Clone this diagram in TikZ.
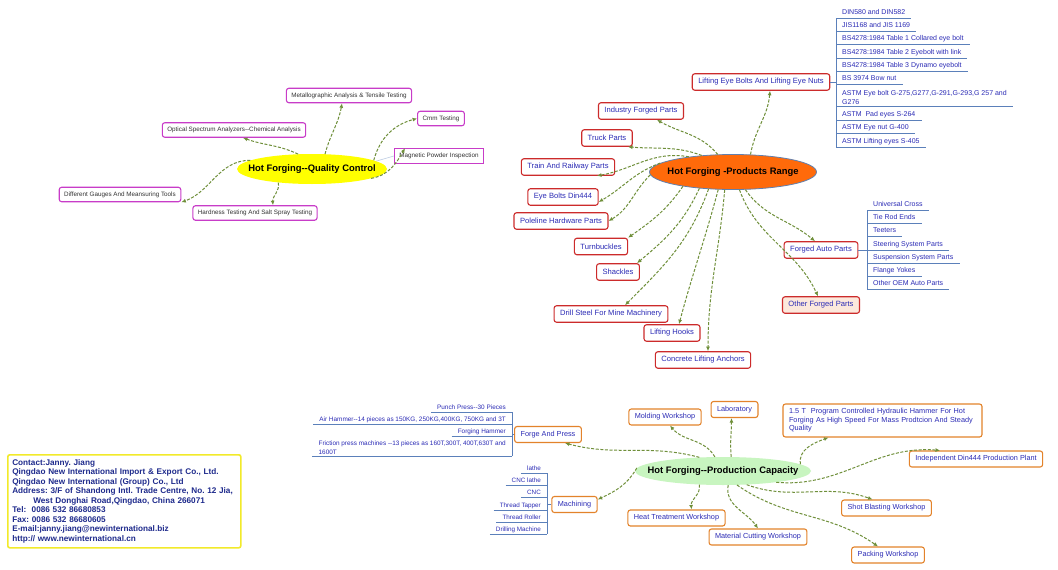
\documentclass[tikz,border=0pt]{standalone}
\usepackage{fontspec}
\setmainfont{Liberation Sans}[Ligatures=TeXOff]
\usepackage{xcolor}
\usetikzlibrary{arrows.meta, shapes.geometric}
\definecolor{linkgreen}{HTML}{6F8F3A}
\definecolor{qcpink}{HTML}{C83CC8}
\definecolor{prred}{HTML}{CC2B2B}
\definecolor{pcorange}{HTML}{E3832B}
\definecolor{txtblue}{HTML}{2B2BB5}
\definecolor{lineblue}{HTML}{5B80BA}
\definecolor{qcyellow}{HTML}{FFFF00}
\definecolor{prorange}{HTML}{FF6A0A}
\definecolor{pcgreen}{HTML}{C8F5C0}
\definecolor{peach}{HTML}{FCE8DC}
\definecolor{contactyellow}{HTML}{F2EA2A}
\definecolor{contactblue}{HTML}{1E2A8C}
\tikzset{
  hub/.style     ={ellipse, inner sep=0pt},
  hubtext/.style ={font=\fontsize{9.4}{11}\selectfont\bfseries, text=black},
  qcbox/.style   ={rectangle, draw=qcpink, line width=1.1pt, rounded corners=2.5pt,
                   fill=white, minimum height=14.5pt, inner xsep=5pt,
                   font=\fontsize{6.3}{7.5}\selectfont, text=black!80},
  prbox/.style   ={rectangle, draw=prred, line width=1.1pt, rounded corners=2.5pt,
                   fill=white, minimum height=16.5pt, inner xsep=6pt,
                   font=\fontsize{7.6}{9}\selectfont, text=txtblue},
  pcbox/.style   ={rectangle, draw=pcorange, line width=1.1pt, rounded corners=2.5pt,
                   fill=white, minimum height=16pt, inner xsep=6pt,
                   font=\fontsize{7.3}{8.6}\selectfont, text=txtblue},
  spine/.style   ={draw=lineblue, line width=0.7pt},
  leaf/.style    ={anchor=south west, inner xsep=6pt, inner ysep=2pt,
                   text height=5.3pt, text depth=1.5pt,
                   font=\fontsize{7}{8.6}\selectfont, text=txtblue,
                   append after command={(\tikzlastnode.south west)
                     edge[spine] (\tikzlastnode.south east)}},
  leafl/.style   ={leaf, anchor=south east, inner ysep=1.5pt,
                   text height=4.8pt, text depth=1.2pt,
                   font=\fontsize{6.4}{8.6}\selectfont},
  link/.style    ={draw=linkgreen, line width=1pt, dash pattern=on 3pt off 1.6pt,
                   -{Latex[length=4.5pt, width=4pt]}},
  contact/.style ={rectangle, anchor=north west, draw=contactyellow, line width=1.6pt,
                   rounded corners=2pt, fill=white, align=left, text width=224pt,
                   inner xsep=4.5pt, minimum height=93pt,
                   font=\fontsize{8.2}{9.5}\selectfont\bfseries, text=contactblue}
}
\begin{document}
\frenchspacing
\begin{tikzpicture}[x=1pt, y=1pt]
\fill[white] (0,0) rectangle (1058,-570);
\useasboundingbox (0,0) rectangle (1058,-570);

% quality control
\node[hub, fill=qcyellow, minimum width=150pt, minimum height=30pt,
      label={[hubtext]center:Hot Forging--Quality Control}] (qc) at (312,-169) {};
\node[qcbox] (metal) at (349,-95.5) {Metallographic Analysis \& Tensile Testing};
\node[qcbox] (optical) at (234,-130) {Optical Spectrum Analyzers--Chemical Analysis};
\node[qcbox] (cmm) at (441,-118.5) {Cmm Testing};
\node[qcbox, rounded corners=0pt] (mag) at (439,-156) {Magnetic Powder Inspection};
\node[qcbox] (gauges) at (120,-194.5) {Different Gauges And Meansuring Tools};
\node[qcbox] (hard) at (255,-213) {Hardness Testing And Salt Spray Testing};

\draw[lineblue!40, line width=0.6pt] (qc.7) -- (mag.west);
\draw[link] (qc.49) to[out=75, in=-100] ([xshift=-7pt]metal.south);
\draw[link] (qc.133) to[out=155, in=-20] ([xshift=9pt]optical.south);
\draw[link] (qc.8) to[out=75, in=195] (cmm.west);
\draw[link] (qc.-9) to[out=10, in=-120] ([xshift=-34pt]mag.north);
\draw[link] (qc.172) to[out=180, in=20] (gauges.south east);
\draw[link] (qc.202) to[out=-80, in=95] ([xshift=18pt]hard.north);

% products range
\node[hub, fill=prorange, draw=lineblue!80!gray, line width=0.8pt,
      minimum width=167pt, minimum height=35pt,
      label={[hubtext]center:Hot Forging -Products Range}] (pr) at (733,-172) {};
\node[prbox] (lift) at (761,-82) {Lifting Eye Bolts And Lifting Eye Nuts};
\node[prbox] (ind) at (641,-111) {Industry Forged Parts};
\node[prbox] (truck) at (607,-138) {Truck Parts};
\node[prbox] (train) at (568,-167) {Train And Railway Parts};
\node[prbox] (din) at (563,-197) {Eye Bolts Din444};
\node[prbox] (pole) at (561,-221) {Poleline Hardware Parts};
\node[prbox] (turn) at (601,-246.5) {Turnbuckles};
\node[prbox] (shack) at (618,-272) {Shackles};
\node[prbox] (drill) at (611,-314) {Drill Steel For Mine Machinery};
\node[prbox] (hooks) at (672,-333) {Lifting Hooks};
\node[prbox] (anch) at (703,-360) {Concrete Lifting Anchors};
\node[prbox] (auto) at (821,-250) {Forged Auto Parts};
\node[prbox, fill=peach] (other) at (821,-305) {Other Forged Parts};

\draw[link] (pr.45) to[out=80, in=-95] ([xshift=9pt]lift.south);
\draw[link] (pr.131) to[out=130, in=-30] ([xshift=16pt]ind.south);
\draw[link] (pr.152) to[out=160, in=-5] ([xshift=21pt]truck.south);
\draw[link] (pr.161) to[out=170, in=10] ([xshift=29pt]train.south);
\draw[link] (pr.173) to[out=200, in=30] ([yshift=-5pt]din.east);
\draw[link] (pr.182) to[out=225, in=30] (pole.east);
\draw[link] (pr.196) to[out=235, in=35] (turn.north east);
\draw[link] (pr.206) to[out=245, in=40] ([xshift=19pt]shack.north);
\draw[link] (pr.215) to[out=250, in=45] ([xshift=14pt]drill.north);
\draw[link] (pr.230) to[out=255, in=75] ([xshift=7pt]hooks.north);
\draw[link] (pr.245) to[out=265, in=90] ([xshift=5pt]anch.north);
\draw[link] (pr.305) to[out=-55, in=140] ([xshift=-6pt]auto.north);
\draw[link] (pr.290) to[out=-70, in=115] ([xshift=-3pt]other.north);

% eye bolt standards
\node[leaf] (l1) at (836,-18) {DIN580 and DIN582};
\node[leaf] (l2) at (836,-31.5) {JIS1168 and JIS 1169};
\node[leaf] (l3) at (836,-44.5) {BS4278:1984 Table 1 Collared eye bolt};
\node[leaf] (l4) at (836,-58) {BS4278:1984 Table 2 Eyebolt with link};
\node[leaf] (l5) at (836,-71.5) {BS4278:1984 Table 3 Dynamo eyebolt};
\node[leaf] (l6) at (836,-84.5) {BS 3974 Bow nut};
\node[leaf, align=left, text height=, text depth=] (l7) at (836,-106.5)
      {ASTM Eye bolt G-275,G277,G-291,G-293,G 257 and\\G276};
\node[leaf] (l8) at (836,-120) {ASTM\ \ Pad eyes S-264};
\node[leaf] (l9) at (836,-133.5) {ASTM Eye nut G-400};
\node[leaf] (l10) at (836,-147) {ASTM Lifting eyes S-405};
\draw[spine] (l1.south west) -- (l10.south west);
\draw[spine] (lift.east) -- (lift.east -| l1.south west);

% auto parts
\node[leaf] (a1) at (867,-210) {Universal Cross};
\node[leaf] (a2) at (867,-223) {Tie Rod Ends};
\node[leaf] (a3) at (867,-236.5) {Teeters};
\node[leaf] (a4) at (867,-250) {Steering System Parts};
\node[leaf] (a5) at (867,-263) {Suspension System Parts};
\node[leaf] (a6) at (867,-276.5) {Flange Yokes};
\node[leaf] (a7) at (867,-289.5) {Other OEM Auto Parts};
\draw[spine] (a1.south west) -- (a7.south west);
\draw[spine] (auto.east) -- (auto.east -| a1.south west);

% production capacity
\node[hub, fill=pcgreen, minimum width=176pt, minimum height=28pt,
      label={[hubtext]center:Hot Forging--Production Capacity}] (pc) at (723,-471) {};
\node[pcbox] (mold) at (665,-417) {Molding Workshop};
\node[pcbox] (lab) at (734.5,-409.5) {Laboratory};
\node[pcbox, text width=187pt, align=left, minimum height=33pt] (ham) at (882.5,-420.5)
      {1.5 T\ \ Program Controlled Hydraulic Hammer For Hot\\
       Forging As High Speed For Mass Prodtcion And Steady\\Quality};
\node[pcbox] (dinp) at (976,-459) {Independent Din444 Production Plant};
\node[pcbox] (shot) at (886.5,-508) {Shot Blasting Workshop};
\node[pcbox] (pack) at (888,-555) {Packing Workshop};
\node[pcbox] (cut) at (758,-537) {Material Cutting Workshop};
\node[pcbox] (heat) at (676.5,-518) {Heat Treatment Workshop};
\node[pcbox] (forge) at (548,-434.5) {Forge And Press};
\node[pcbox] (mach) at (574.5,-504.5) {Machining};

\draw[link] (pc.150) to[out=165, in=-15] ([xshift=17pt]forge.south);
\draw[link] (pc.120) to[out=120, in=-50] ([xshift=5pt]mold.south);
\draw[link] (pc.60) to[out=95, in=-90] ([xshift=-3pt]lab.south);
\draw[link] (pc.178) to[out=240, in=25] ([yshift=5pt]mach.east);
\draw[link] (pc.210) to[out=-80, in=95] ([xshift=15pt]heat.north);
\draw[link] (pc.290) to[out=-100, in=125] (cut.north);
\draw[link] (pc.5) to[out=100, in=200] ([xshift=-54pt]ham.south);
\draw[link] (pc.-12) to[out=-5, in=175] ([xshift=-36pt]dinp.north);
\draw[link] (pc.-30) to[out=-20, in=160] ([xshift=-14pt]shot.north);
\draw[link] (pc.-45) to[out=-35, in=145] ([xshift=-10pt]pack.north);

% forging equipment
\node[leafl] (f1) at (512,-412) {Punch Press--30 Pieces};
\node[leafl] (f2) at (512,-424.5) {Air Hammer--14 pieces as 150KG, 250KG,400KG, 750KG and 3T};
\node[leafl] (f3) at (512,-436.5) {Forging Hammer};
\node[leafl, align=left, text height=, text depth=] (f4) at (512,-456)
      {Friction press machines --13 pieces as 160T,300T, 400T,630T and\\1600T};
\draw[spine] (f1.south east) -- (f4.south east);
\draw[spine] (forge.west) -- (forge.west -| f1.south east);

% machining equipment
\node[leafl, font=\fontsize{6.3}{8}\selectfont] (m1) at (547,-473) {lathe};
\node[leafl, font=\fontsize{6.3}{8}\selectfont] (m2) at (547,-485.5) {CNC lathe};
\node[leafl, font=\fontsize{6.3}{8}\selectfont] (m3) at (547,-497.5) {CNC};
\node[leafl, font=\fontsize{6.3}{8}\selectfont] (m4) at (547,-510) {Thread Tapper};
\node[leafl, font=\fontsize{6.3}{8}\selectfont] (m5) at (547,-522) {Thread Roller};
\node[leafl, font=\fontsize{6.3}{8}\selectfont] (m6) at (547,-534) {Drilling Machine};
\draw[spine] (m1.south east) -- (m6.south east);
\draw[spine] (mach.west) -- (mach.west -| m1.south east);

% contact details
\node[contact] (contact) at (7,-454)
  {Contact:Janny. Jiang\\
   Qingdao New International Import \& Export Co., Ltd.\\
   Qingdao New International (Group) Co., Ltd\\
   Address: 3/F of Shandong Intl. Trade Centre, No. 12 Jia,\\
   \hspace*{21pt}West Donghai Road,Qingdao, China 266071\\
   Tel:\ \ 0086 532 86680853\\
   Fax: 0086 532 86680605\\
   E-mail:janny.jiang@newinternational.biz\\
   http:// www.newinternational.cn};

\end{tikzpicture}
\end{document}
